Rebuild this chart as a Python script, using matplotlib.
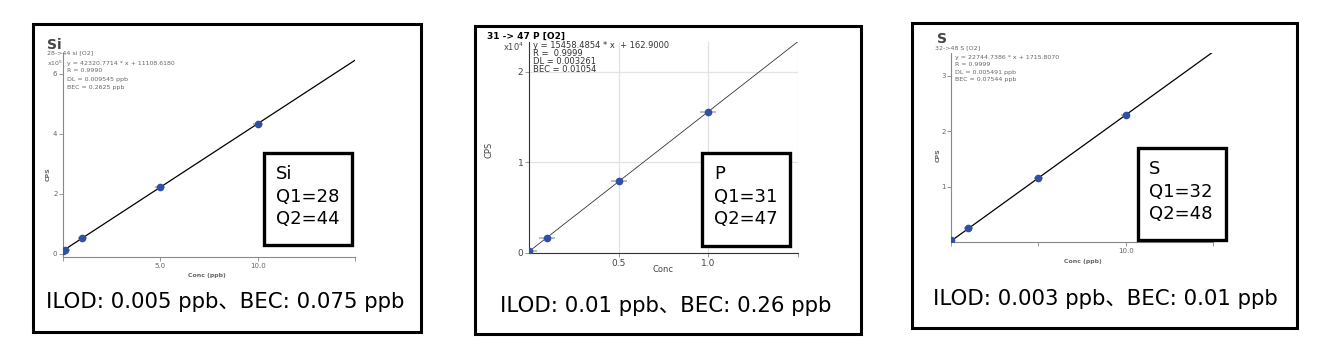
import matplotlib.pyplot as plt
from matplotlib.patches import Rectangle

# --- data --------------------------------------------------------------------
si_conc = [0.0, 0.1, 1.0, 5.0, 10.0]
si_cps = [0.11, 0.15, 0.53, 2.23, 4.33]          # x10^5
si_fit = (0.423208, 0.111086)                    # slope, intercept (x10^5)
si_eq = ["y = 42320.7714 * x + 11108.6180", "R = 0.9990",
         "DL = 0.009545 ppb", "BEC = 0.2625 ppb"]

p_conc = [0.0, 0.1, 0.5, 1.0]
p_cps = [0.018, 0.17, 0.79, 1.56]                # x10^4
p_fit = (1.54585, 0.01629)
p_eq = ["y = 15458.4854 * x  + 162.9000", "R =  0.9999",
        "DL = 0.003261", "BEC = 0.01054"]

s_conc = [0.0, 1.0, 5.0, 10.0]
s_cps = [0.04, 0.25, 1.16, 2.29]                 # x10^5
s_fit = (0.227447, 0.017158)
s_eq = ["y = 22744.7386 * x + 1715.8070", "R = 0.9999",
        "DL = 0.005491 ppb", "BEC = 0.07544 ppb"]

W, H = 1333, 352
fig = plt.figure(figsize=(W / 100, H / 100), dpi=100)
JP = ["DejaVu Sans", "Noto Sans CJK JP"]
GRAY = "#666666"
BLUE = "#2f4fa8"


def fx(x): return x / W
def fy(y): return 1 - y / H


def frame(l, t, r, b, lw=2.2, z=1):
    fig.add_artist(Rectangle((fx(l), fy(b)), (r - l) / W, (b - t) / H,
                             transform=fig.transFigure, fill=True, fc="white",
                             ec="black", lw=lw, zorder=z))


def axes(l, t, r, b):
    ax = fig.add_axes([fx(l), fy(b), (r - l) / W, (b - t) / H], zorder=2)
    ax.patch.set_alpha(0)
    for s in ("top", "right"):
        ax.spines[s].set_visible(False)
    for s in ("left", "bottom"):
        ax.spines[s].set_color("#888888")
        ax.spines[s].set_linewidth(0.8)
    ax.tick_params(length=3, width=0.6, color="#888888", labelcolor=GRAY,
                   labelsize=5, pad=1)
    return ax


def curve(ax, conc, cps, fit, xerr, lw=0.9, lc="black"):
    ax.axline((0, fit[1]), slope=fit[0], color=lc, lw=lw, zorder=2)
    ax.errorbar(conc, cps, xerr=xerr, fmt="o", ms=4.5, mfc=BLUE, mec=BLUE,
                ecolor="#b0b0b0", elinewidth=1.2, capsize=0, zorder=3)


def qbox(l, t, r, b, lines, x0, bases):
    frame(l, t, r, b, lw=2.4, z=5)
    for s, yb in zip(lines, bases):
        fig.text(fx(x0), fy(yb), s, family=JP, fontsize=13, va="baseline",
                 zorder=6)


# panel frames
frame(33, 24, 421, 332)
frame(475, 26, 861, 334)
frame(912, 23, 1297, 328)

# --- Si ----------------------------------------------------------------------
ax = axes(63, 53, 355, 257)
ax.set_xlim(0, 15)
ax.set_ylim(-0.1, 6.7)
ax.set_xticks([0, 5, 10, 15], ["", "5.0", "10.0", ""])
ax.set_yticks([0, 2, 4, 6])
curve(ax, si_conc, si_cps, si_fit, 0.25)
fig.text(fx(47), fy(49), "Si", fontsize=10, weight="bold", color="#444444",
         va="baseline")
fig.text(fx(47), fy(53), "28->44 si [O2]", fontsize=4.5, color=GRAY, va="center")
fig.text(fx(47), fy(63), r"x10$^5$", fontsize=4.5, color=GRAY, va="center")
for i, s in enumerate(si_eq):
    fig.text(fx(67), fy(63 + 8 * i), s, fontsize=4.5, color=GRAY, va="center")
fig.text(fx(48), fy(174), "CPS", fontsize=4.5, color=GRAY, weight="bold",
         rotation=90, ha="center", va="center")
fig.text(fx(207), fy(276), "Conc (ppb)", fontsize=4.5, color=GRAY,
         weight="bold", ha="center", va="center")
qbox(264, 153, 352, 245, ["Si", "Q1=28", "Q2=44"], 276, [179, 202, 224])
fig.text(fx(225), fy(308), "ILOD: 0.005 ppb、BEC: 0.075 ppb", family=JP,
         fontsize=15.3, ha="center", va="baseline")

# --- P -----------------------------------------------------------------------
ax = axes(529, 42, 798, 253)
ax.set_xlim(0, 1.5)
ax.set_ylim(0, 2.33)
ax.set_xticks([0.5, 1.0, 1.5], ["0.5", "1.0", ""])
ax.set_yticks([0, 1, 2])
ax.tick_params(labelsize=6.5, labelcolor="#444444")
ax.grid(True, color="#e3e3e3", lw=0.9)
ax.set_axisbelow(True)
ax.spines["left"].set_color("#333333")
ax.spines["bottom"].set_color("#333333")
curve(ax, p_conc, p_cps, p_fit, 0.045, lw=0.6, lc="#333333")
fig.text(fx(487), fy(36), "31 -> 47 P [O2]", fontsize=6.5, weight="bold",
         va="center")
fig.text(fx(503), fy(47), r"x10$^{4}$", fontsize=6, color="#444444", va="center")
for i, s in enumerate(p_eq):
    fig.text(fx(533), fy(45 + 8.3 * i), s, fontsize=6, color="#333333",
             va="center")
fig.text(fx(489), fy(150), "CPS", fontsize=6, color="#444444", rotation=90,
         ha="center", va="center")
fig.text(fx(663), fy(270), "Conc", fontsize=6, color="#444444", ha="center",
         va="center")
qbox(702, 153, 790, 246, ["P", "Q1=31", "Q2=47"], 714, [179, 202, 224])
fig.text(fx(666), fy(312), "ILOD: 0.01 ppb、BEC: 0.26 ppb", family=JP,
         fontsize=15.3, ha="center", va="baseline")

# --- S -----------------------------------------------------------------------
ax = axes(951, 53, 1213, 242)
ax.set_xlim(0, 15)
ax.set_ylim(0, 3.41)
ax.set_xticks([0, 5, 10, 15], ["", "", "10.0", ""])
ax.set_yticks([1, 2, 3])
curve(ax, s_conc, s_cps, s_fit, 0.25)
fig.text(fx(937), fy(43), "S", fontsize=10, weight="bold", color="#444444",
         va="baseline")
fig.text(fx(935), fy(48), "32->48 S [O2]", fontsize=4.5, color=GRAY, va="center")
for i, s in enumerate(s_eq):
    fig.text(fx(955), fy(57 + 7.6 * i), s, fontsize=4.5, color=GRAY, va="center")
fig.text(fx(938), fy(155), "CPS", fontsize=4.5, color=GRAY, weight="bold",
         rotation=90, ha="center", va="center")
fig.text(fx(1083), fy(262), "Conc (ppb)", fontsize=4.5, color=GRAY,
         weight="bold", ha="center", va="center")
qbox(1138, 148, 1226, 240, ["S", "Q1=32", "Q2=48"], 1149, [174, 197, 219])
fig.text(fx(1105), fy(305), "ILOD: 0.003 ppb、BEC: 0.01 ppb", family=JP,
         fontsize=15.3, ha="center", va="baseline")

fig.savefig("out.png", dpi=100)
